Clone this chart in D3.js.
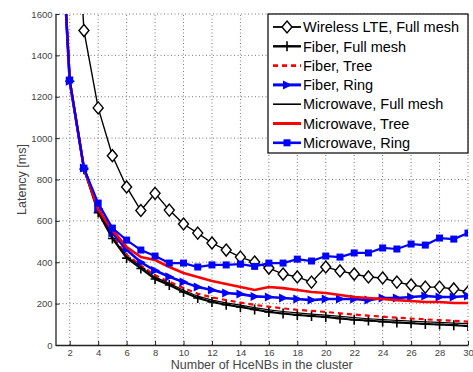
<!DOCTYPE html>
<html>
<head>
<meta charset="utf-8">
<script src="https://cdn.jsdelivr.net/npm/d3@7"></script>
<style>
  body { margin: 0; background: #fff; }
  svg { display: block; font-family: "Liberation Sans", Arial, sans-serif; }
</style>
</head>
<body>
<div id="chart"></div>
<script>
const W = 473, H = 372
const MARGIN = { TOP: 14, BOTTOM: 27, LEFT: 55.5, RIGHT: 5 }

// data
const nodes = d3.range(1, 31)
const lteFull = [null, 2700, 1520, 1146, 915, 764, 650, 733, 652, 585, 541, 493, 459, 425, 401, 372, 343, 329, 304, 377, 358, 343, 329, 324, 304, 290, 280, 280, 271, 256]
const fiberFull = [2550, 1275, 850, 640, 515, 420, 370, 319, 290, 256, 227, 208, 195, 184, 172, 160, 152, 145, 140, 135, 128, 122, 118, 113, 109, 105, 102, 99, 96, 92]
const fiberTree = [2560, 1280, 855, 650, 528, 436, 385, 337, 306, 275, 248, 230, 217, 205, 194, 185, 177, 170, 165, 160, 153, 147, 142, 137, 132, 128, 124, 120, 117, 113]
const fiberRing = [2550, 1275, 855, 660, 541, 460, 400, 360, 330, 304, 280, 266, 251, 246, 235, 232, 227, 222, 217, 222, 222, 222, 217, 227, 227, 232, 237, 232, 232, 237]
const mwFull = [2560, 1280, 855, 648, 522, 428, 378, 328, 298, 265, 236, 217, 204, 193, 181, 170, 162, 155, 149, 144, 138, 132, 127, 123, 119, 115, 112, 109, 106, 103]
const mwTree = [2550, 1275, 855, 655, 555, 474, 425, 411, 377, 348, 329, 309, 295, 280, 266, 280, 275, 266, 256, 251, 242, 232, 227, 222, 217, 213, 208, 208, 203, 203]
const mwRing = [2550, 1281, 855, 686, 565, 507, 459, 430, 396, 396, 377, 387, 387, 391, 380, 396, 396, 415, 406, 430, 425, 445, 445, 469, 464, 488, 483, 517, 512, 541]

const xTicks = d3.range(2, 31, 2)
const yTicks = d3.range(0, 1601, 200)

const series = [
  { name: "Wireless LTE, Full mesh", values: lteFull, color: "#000", width: 1.4, dash: null, marker: "diamond" },
  { name: "Fiber, Full mesh", values: fiberFull, color: "#000", width: 2, dash: null, marker: "plus" },
  { name: "Fiber, Tree", values: fiberTree, color: "#f00", width: 2.2, dash: "5,4", marker: null },
  { name: "Fiber, Ring", values: fiberRing, color: "#00f", width: 2.6, dash: null, marker: "tri" },
  { name: "Microwave, Full mesh", values: mwFull, color: "#000", width: 1.2, dash: null, marker: null },
  { name: "Microwave, Tree", values: mwTree, color: "#f00", width: 2.6, dash: null, marker: null },
  { name: "Microwave, Ring", values: mwRing, color: "#00f", width: 2.2, dash: null, marker: "square" }
]

const svg = d3.select("#chart").append("svg")
  .attr("width", W)
  .attr("height", H)

const x = d3.scaleLinear().domain([1, 30]).range([MARGIN.LEFT, W - MARGIN.RIGHT])
const y = d3.scaleLinear().domain([0, 1600]).range([H - MARGIN.BOTTOM, MARGIN.TOP])

svg.append("clipPath").attr("id", "plot")
  .append("rect")
  .attr("x", x(1)).attr("y", y(1600))
  .attr("width", x(30) - x(1)).attr("height", y(0) - y(1600))

// grid
const grid = svg.append("g").attr("stroke", "#555").attr("stroke-width", 0.8).attr("stroke-dasharray", "1,2.5")
grid.selectAll(".gx").data(xTicks).join("line")
  .attr("x1", d => x(d)).attr("x2", d => x(d))
  .attr("y1", y(0)).attr("y2", y(1600))
grid.selectAll(".gy").data(yTicks.slice(1)).join("line")
  .attr("x1", x(1)).attr("x2", x(30))
  .attr("y1", d => y(d)).attr("y2", d => y(d))

// axes
const xAxis = svg.append("g")
  .attr("transform", `translate(0, ${y(0)})`)
  .call(d3.axisBottom(x).tickValues(xTicks).tickSize(-4).tickPadding(4).tickSizeOuter(0))
const yAxis = svg.append("g")
  .attr("transform", `translate(${x(1)}, 0)`)
  .call(d3.axisLeft(y).tickValues(yTicks).tickFormat(d3.format("d")).tickSize(-4).tickPadding(3).tickSizeOuter(0))

for (const ax of [xAxis, yAxis]) {
  ax.select(".domain").attr("stroke", "#222").attr("stroke-width", 1.3)
  ax.selectAll(".tick line").attr("stroke", "#222")
  ax.selectAll("text").attr("font-size", 9.5).attr("fill", "#444")
    .attr("font-family", "'Liberation Sans', Arial, sans-serif")
}

svg.append("text")
  .attr("x", (x(1) + x(30)) / 2)
  .attr("y", 369)
  .attr("text-anchor", "middle")
  .attr("font-size", 12.5)
  .attr("fill", "#444")
  .text("Number of HceNBs in the cluster")

svg.append("text")
  .attr("transform", `translate(26, ${(y(0) + y(1600)) / 2}) rotate(-90)`)
  .attr("text-anchor", "middle")
  .attr("font-size", 12.5)
  .attr("fill", "#444")
  .text("Latency [ms]")

// markers
function drawMarker(g, type, cx, cy, color) {
  if (type === "diamond") {
    g.append("path").attr("d", `M${cx},${cy - 6}L${cx + 5},${cy}L${cx},${cy + 6}L${cx - 5},${cy}Z`)
      .attr("fill", "#fff").attr("stroke", color).attr("stroke-width", 1.4)
  } else if (type === "plus") {
    g.append("path").attr("d", `M${cx - 4.5},${cy}H${cx + 4.5}M${cx},${cy - 5}V${cy + 5}`)
      .attr("stroke", color).attr("stroke-width", 1.6)
  } else if (type === "tri") {
    g.append("path").attr("d", `M${cx + 5},${cy}L${cx - 4},${cy - 4.5}L${cx - 4},${cy + 4.5}Z`)
      .attr("fill", color)
  } else if (type === "square") {
    g.append("rect").attr("x", cx - 3.5).attr("y", cy - 3.5).attr("width", 7).attr("height", 7)
      .attr("fill", color)
  }
}

const plot = svg.append("g").attr("clip-path", "url(#plot)")

series.forEach(s => {
  const pts = nodes.map((n, i) => [n, s.values[i]])
  const line = d3.line()
    .defined(d => d[1] != null)
    .x(d => x(d[0])).y(d => y(d[1]))
  plot.append("path")
    .attr("d", line(pts))
    .attr("fill", "none")
    .attr("stroke", s.color)
    .attr("stroke-width", s.width)
    .attr("stroke-dasharray", s.dash)
  if (s.marker) {
    const mg = plot.append("g")
    pts.filter(d => d[1] != null && d[0] >= 2)
      .forEach(d => drawMarker(mg, s.marker, x(d[0]), y(d[1]), s.color))
  }
})

// legend
const lg = svg.append("g")
lg.append("rect")
  .attr("x", 268).attr("y", 14)
  .attr("width", 200).attr("height", 139)
  .attr("fill", "#fff").attr("stroke", "#000").attr("stroke-width", 1.2)

series.forEach((s, i) => {
  const ly = 27 + i * 19.3
  lg.append("line")
    .attr("x1", 273).attr("x2", 301)
    .attr("y1", ly).attr("y2", ly)
    .attr("stroke", s.color)
    .attr("stroke-width", s.width + 0.4)
    .attr("stroke-dasharray", s.dash)
  if (s.marker) drawMarker(lg, s.marker, 287, ly, s.color)
  lg.append("text")
    .attr("x", 303).attr("y", ly)
    .attr("dy", "0.36em")
    .attr("font-size", 14.5)
    .attr("fill", "#000")
    .text(s.name)
})
</script>
</body>
</html>
